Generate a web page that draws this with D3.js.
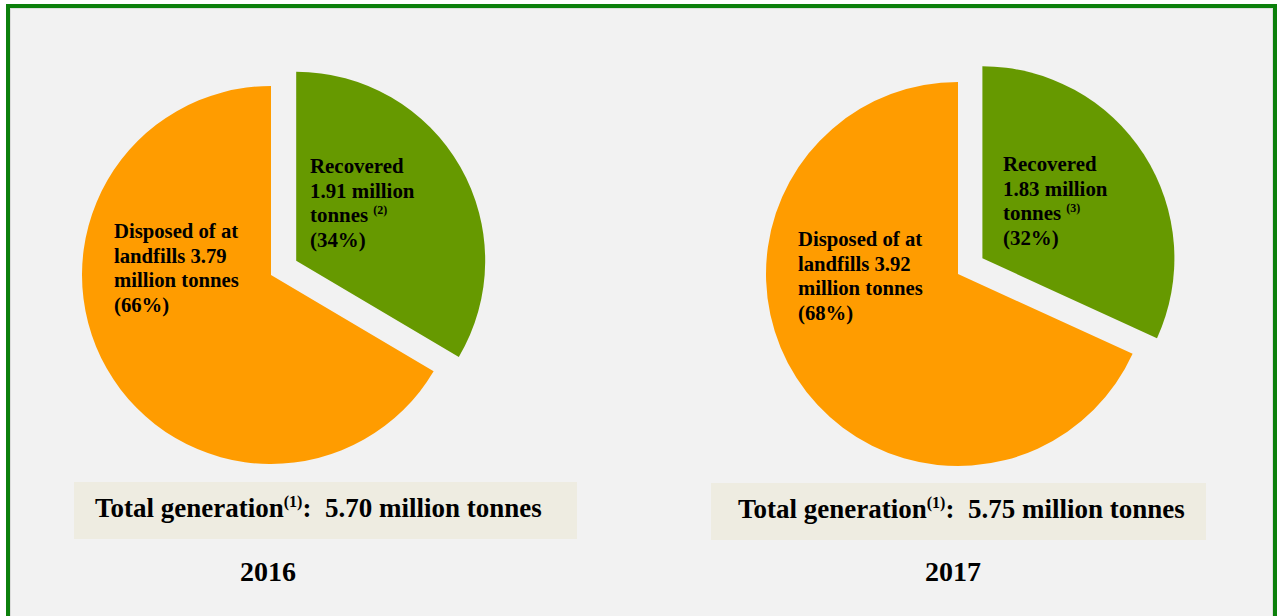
<!DOCTYPE html>
<html>
<head>
<meta charset="utf-8">
<script src="https://cdn.jsdelivr.net/npm/d3@7"></script>
<style>
  html, body { margin: 0; padding: 0; background: #ffffff; }
  svg { display: block; }
  text { font-family: "Liberation Serif", "Times New Roman", Times, serif; font-weight: bold; fill: #000; }
</style>
</head>
<body>
<svg id="chart" width="1279" height="616"></svg>
<script>
// Municipal solid waste: recovered vs. disposed at landfills (million tonnes)
const years = ["2016", "2017"];
const recovered = [1.91, 1.83];
const disposed = [3.79, 3.92];
const totals = [5.70, 5.75];
const recoveredPct = [34, 32];
const disposedPct = [66, 68];
const recoveredNotes = ["(2)", "(3)"];
const totalNote = "(1)";

const colors = { recovered: "#669900", disposed: "#ff9c00" };

const svg = d3.select("#chart");

// panel background and frame
svg.append("rect").attr("x", 0).attr("y", 0).attr("width", 1279).attr("height", 616).attr("fill", "#ffffff");
svg.append("rect").attr("x", 8).attr("y", 6).attr("width", 1267).attr("height", 640)
  .attr("fill", "#f2f2f2").attr("stroke", "#0c800c").attr("stroke-width", 4);
svg.append("rect").attr("x", 10.5).attr("y", 8.5).attr("width", 1262).attr("height", 640)
  .attr("fill", "none").attr("stroke", "#dcdcdc").attr("stroke-width", 1);

// per-panel placement
const layout = [
  { cx: 271, cy: 275, r: 189, explode: 29,
    recLabel: [39, -102], dispLabel: [-157, -37],
    box: [74, 482, 503, 57], boxText: [95, 517], year: [268, 581] },
  { cx: 958, cy: 274, r: 192, explode: 29,
    recLabel: [45, -103], dispLabel: [-160, -28],
    box: [711, 483, 495, 57], boxText: [738, 518], year: [953, 581] }
];

const pie = d3.pie().sort(null).value(d => d.value);
const lineH = 24.6;

years.forEach((year, i) => {
  const L = layout[i];
  const g = svg.append("g").attr("transform", `translate(${L.cx},${L.cy})`);
  const slices = pie([
    { key: "recovered", value: recovered[i] },
    { key: "disposed", value: disposed[i] }
  ]);
  const arc = d3.arc().innerRadius(0).outerRadius(L.r);

  g.selectAll("path").data(slices).join("path")
    .attr("d", arc)
    .attr("fill", d => colors[d.data.key])
    .attr("transform", d => {
      if (d.data.key !== "recovered") return null;
      const mid = (d.startAngle + d.endAngle) / 2;
      return `translate(${L.explode * Math.sin(mid)},${-L.explode * Math.cos(mid)})`;
    });

  // recovered label
  const rec = g.append("text").attr("font-size", 20.9)
    .attr("transform", `translate(${L.recLabel[0]},${L.recLabel[1]})`);
  rec.append("tspan").attr("x", 0).attr("y", 0).text("Recovered");
  rec.append("tspan").attr("x", 0).attr("y", lineH).text(`${d3.format(".2f")(recovered[i])} million`);
  rec.append("tspan").attr("x", 0).attr("y", lineH * 2).text("tonnes ");
  rec.append("tspan").attr("y", lineH * 2 - 8).attr("font-size", 12).text(recoveredNotes[i]);
  rec.append("tspan").attr("x", 0).attr("y", lineH * 3).text(`(${recoveredPct[i]}%)`);

  // disposed label
  const dis = g.append("text").attr("font-size", 20.7)
    .attr("transform", `translate(${L.dispLabel[0]},${L.dispLabel[1]})`);
  dis.append("tspan").attr("x", 0).attr("y", 0).text("Disposed of at");
  dis.append("tspan").attr("x", 0).attr("y", lineH).text(`landfills ${d3.format(".2f")(disposed[i])}`);
  dis.append("tspan").attr("x", 0).attr("y", lineH * 2).text("million tonnes");
  dis.append("tspan").attr("x", 0).attr("y", lineH * 3).text(`(${disposedPct[i]}%)`);

  // total generation box
  svg.append("rect")
    .attr("x", L.box[0]).attr("y", L.box[1]).attr("width", L.box[2]).attr("height", L.box[3])
    .attr("fill", "#eeece1");
  const tot = svg.append("text").attr("font-size", 27)
    .attr("x", L.boxText[0]).attr("y", L.boxText[1]);
  tot.append("tspan").text("Total generation");
  tot.append("tspan").attr("dy", -10).attr("font-size", 16).text(totalNote);
  tot.append("tspan").attr("dy", 10).text(`:\u00a0 ${d3.format(".2f")(totals[i])} million tonnes`);

  // year caption
  svg.append("text").attr("font-size", 28).attr("text-anchor", "middle")
    .attr("x", L.year[0]).attr("y", L.year[1]).text(year);
});
</script>
</body>
</html>
